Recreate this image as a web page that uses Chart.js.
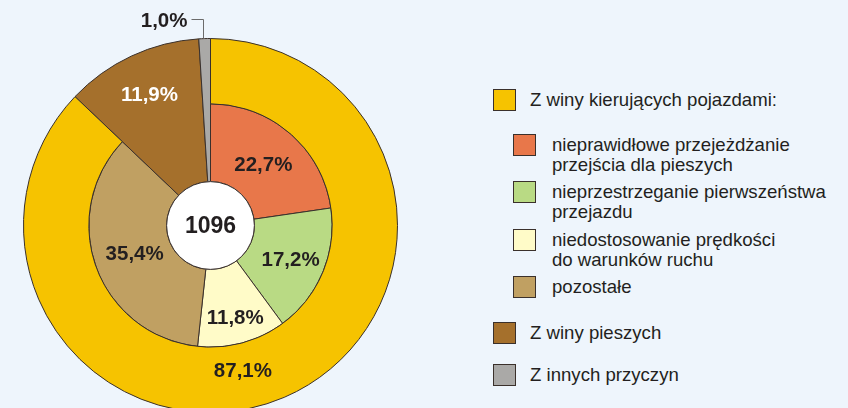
<!DOCTYPE html>
<html>
<head>
<meta charset="utf-8">
<script src="https://cdn.jsdelivr.net/npm/chart.js@4.4.1/dist/chart.umd.min.js"></script>
<style>
  html, body { margin: 0; padding: 0; width: 848px; height: 408px; overflow: hidden; background: #eef5fc; }
  #chartBox { position: absolute; left: 0; top: 0; width: 440px; height: 440px; }
  .sq { position: absolute; box-sizing: border-box; border: 1px solid #3a302b; }
  .lt { position: absolute; font-family: "Liberation Sans", Arial, sans-serif; font-size: 18.6px; line-height: 20px; color: #231f20; white-space: nowrap; }
</style>
</head>
<body>
<div id="chartBox"><canvas id="c"></canvas></div>
<div id="legend"></div>
<script>
// ---- data ----
const outerLabels = ['Z winy kierujących pojazdami:', 'Z winy pieszych', 'Z innych przyczyn'];
const outerValues = [87.1, 11.9, 1.0];
const innerLabels = [
  ['nieprawidłowe przejeżdżanie', 'przejścia dla pieszych'],
  ['nieprzestrzeganie pierwszeństwa', 'przejazdu'],
  ['niedostosowanie prędkości', 'do warunków ruchu'],
  ['pozostałe']
];
const innerValues = [22.7, 17.2, 11.8, 35.4];
const totalCount = 1096;

// ---- styles ----
const outerColors = ['#f6c300', '#a5702c', '#aaa9a7'];
const innerColors = ['#e8774a', '#b9da84', '#fffbc8', '#c0a062'];
const lineColor = '#3a302b';
const textColor = '#231f20';

const fmt = v => v.toFixed(1).replace('.', ',') + '%';

// inner ring: driver sub-causes + pedestrian / other wedges (which run to the full radius)
const innerData = innerValues.concat(outerValues.slice(1));
const innerBg = innerColors.concat(outerColors.slice(1));

const fullWedgePlugin = {
  id: 'fullWedge',
  beforeDatasetsDraw(chart) {
    const outer = chart.getDatasetMeta(0).data;
    const inner = chart.getDatasetMeta(1).data;
    for (let i = innerValues.length; i < inner.length; i++) {
      inner[i].outerRadius = outer[0].outerRadius;
    }
  }
};

const labelPlugin = {
  id: 'labels',
  afterDatasetsDraw(chart) {
    const ctx = chart.ctx;
    const outer = chart.getDatasetMeta(0).data;
    const inner = chart.getDatasetMeta(1).data;
    const cx = inner[0].x, cy = inner[0].y;
    const rIn = inner[0].innerRadius, rMid = inner[0].outerRadius, rOut = outer[0].outerRadius;
    // centre disc
    ctx.save();
    ctx.beginPath();
    ctx.arc(cx, cy, rIn, 0, Math.PI * 2);
    ctx.fillStyle = '#ffffff';
    ctx.fill();
    ctx.lineWidth = 1;
    ctx.strokeStyle = lineColor;
    ctx.stroke();
    ctx.fillStyle = textColor;
    ctx.font = 'bold 23px "Liberation Sans", Arial, sans-serif';
    ctx.textAlign = 'center';
    ctx.textBaseline = 'middle';
    ctx.fillText(String(totalCount), cx, cy + 1);

    const put = (text, ang, r, color) => {
      const a = ang - Math.PI / 2;
      ctx.fillStyle = color;
      ctx.fillText(text, cx + r * Math.cos(a), cy + r * Math.sin(a) + 1);
    };
    const mid = el => (el.startAngle + el.endAngle) / 2 + Math.PI / 2;
    ctx.font = 'bold 20.5px "Liberation Sans", Arial, sans-serif';
    const radAdj = [-2, 4, 12, -2];
    for (let i = 0; i < innerValues.length; i++) {
      put(fmt(innerValues[i]), mid(inner[i]), (rIn + rMid) / 2 + radAdj[i], textColor);
    }
    // outer ring labels
    put(fmt(outerValues[0]), mid(outer[0]) + 10.6 * Math.PI / 180, (rMid + rOut) / 2 - 6, textColor);
    put(fmt(outerValues[1]), mid(outer[1]), (rMid + rOut) / 2 - 10, '#ffffff');
    // small slice with leader line
    const g = outer[2];
    const ga = mid(g) - 0.6 * Math.PI / 180 - Math.PI / 2;
    const lx = Math.round(cx + rOut * Math.cos(ga)) + 0.5;
    const ly0 = cy + rOut * Math.sin(ga);
    const ly1 = 19.5;
    ctx.beginPath();
    ctx.moveTo(lx, ly0);
    ctx.lineTo(lx, ly1);
    ctx.lineTo(lx - 12, ly1);
    ctx.strokeStyle = '#6b6b6b';
    ctx.lineWidth = 1;
    ctx.stroke();
    ctx.fillStyle = textColor;
    ctx.textAlign = 'right';
    ctx.fillText(fmt(outerValues[2]), lx - 16, ly1 + 1.5);
    ctx.restore();
  }
};

new Chart(document.getElementById('c'), {
  type: 'doughnut',
  data: {
    labels: outerLabels,
    datasets: [
      {
        data: outerValues,
        backgroundColor: ['#f6c300', 'rgba(0,0,0,0)', 'rgba(0,0,0,0)'],
        borderColor: lineColor,
        borderWidth: [1, 0, 0],
        weight: 65.5
      },
      {
        data: innerData,
        backgroundColor: innerBg,
        borderColor: lineColor,
        borderWidth: 1,
        weight: 78
      }
    ]
  },
  options: {
    responsive: true,
    maintainAspectRatio: false,
    animation: false,
    events: [],
    cutout: (44 / 187.5 * 100) + '%',
    layout: { padding: { left: 23, right: 42, top: 38, bottom: 27 } },
    plugins: { legend: { display: false }, tooltip: { enabled: false } }
  },
  plugins: [fullWedgePlugin, labelPlugin]
});

// ---- HTML legend ----
const legend = document.getElementById('legend');
const rows = [
  { color: outerColors[0], lines: [outerLabels[0]], level: 0, center: 99.5 },
  { color: innerColors[0], lines: innerLabels[0], level: 1, center: 145 },
  { color: innerColors[1], lines: innerLabels[1], level: 1, center: 191.5 },
  { color: innerColors[2], lines: innerLabels[2], level: 1, center: 240 },
  { color: innerColors[3], lines: innerLabels[3], level: 1, center: 287 },
  { color: outerColors[1], lines: [outerLabels[1]], level: 0, center: 332.5 },
  { color: outerColors[2], lines: [outerLabels[2]], level: 0, center: 375 }
];
rows.forEach(r => {
  const sq = document.createElement('div');
  sq.className = 'sq';
  sq.style.left = (r.level ? 513 : 493) + 'px';
  sq.style.top = (r.center - 11) + 'px';
  sq.style.width = '23px';
  sq.style.height = '22px';
  sq.style.background = r.color;
  legend.appendChild(sq);
  const t = document.createElement('div');
  t.className = 'lt';
  t.style.left = (r.level ? 552 : 530) + 'px';
  t.style.top = (r.center - 10) + 'px';
  t.innerHTML = r.lines.join('<br>');
  legend.appendChild(t);
});
</script>
</body>
</html>
